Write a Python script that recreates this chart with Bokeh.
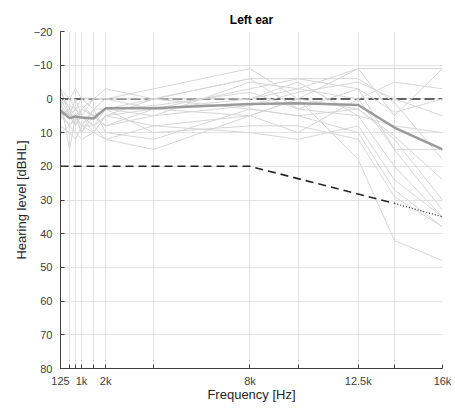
from bokeh.plotting import figure
from bokeh.models import Range1d, FixedTicker
from bokeh.embed import file_html
from bokeh.resources import INLINE

freqs = [125, 500, 750, 1000, 1500, 2000, 4000, 8000, 10000, 12500, 14000, 16000]
tick_labels = {125: "125", 1000: "1k", 2000: "2k", 8000: "8k", 12500: "12.5k", 16000: "16k"}

subjects = [
    [-3, 5, 3, 2, 5, 3, 5, -5, -3, -9, -9, -9],
    [0, 15, 5, 8, 3, 10, 12, 3, 5, 10, 27, 38],
    [5, 3, 8, 5, 10, 12, 15, 5, 0, 18, 42, 48],
    [10, 8, 5, 10, 5, 8, 3, 0, -5, 5, 20, 35],
    [2, 0, -3, 0, 3, 0, -3, -9, 0, -9, 5, -9],
    [8, 10, 12, 8, 8, 5, 0, -6, -6, -3, 15, 33],
    [-2, 3, 5, 3, 0, -3, 0, 3, 5, 3, 11, 24],
    [3, 5, 0, 5, 8, 3, 2, -2, 3, 5, 8, 10],
    [5, 8, 10, 12, 10, 5, 8, 10, 12, 8, 24, 35],
    [0, 2, 3, 0, 0, 0, 0, 0, -3, 0, -5, -3],
    [3, 5, 8, 3, 5, 8, 5, 2, -2, -5, 0, 5],
    [6, 3, 5, 10, 3, 3, 10, 8, 8, 12, 29, 38],
    [0, 5, 3, 5, 8, 12, 8, 5, 10, 0, 15, 15],
    [-3, 0, 3, 5, 0, 0, 3, -3, -6, -6, 1, 18],
    [4, 8, 6, 3, 5, 3, 0, -6, 3, -3, 4, 0],
    [2, 5, 5, 8, 10, 5, 3, 5, 0, 3, 12, 30],
]
mean_db = [3.5, 5.7, 5.2, 5.5, 5.8, 2.8, 2.8, 1.5, 1.3, 1.8, 8.5, 15.0]

ref_freq = [125, 16000]
ref_db = [0, 0]
thr_freq = [125, 8000, 14000]
thr_db = [20, 20, 31]
ext_freq = [14000, 16000]
ext_db = [31, 35]

FONT = "Liberation Sans"

p = figure(width=455, height=410, output_backend="svg", toolbar_location=None,
           x_range=Range1d(125, 16000), y_range=Range1d(80, -20),
           min_border_left=60, min_border_right=13, min_border_top=31, min_border_bottom=42,
           title="Left ear")
p.title.align = "center"
p.title.text_font = FONT
p.title.text_font_size = "12px"
p.title.text_font_style = "bold"
p.title.text_color = "#000000"
p.title.offset = 0
p.outline_line_color = None
p.background_fill_color = "white"

p.xaxis.ticker = FixedTicker(ticks=freqs)
p.xaxis.major_label_overrides = {f: tick_labels.get(f, "") for f in freqs}
p.yaxis.ticker = FixedTicker(ticks=list(range(-20, 81, 10)))
for ax in (p.xaxis, p.yaxis):
    ax.axis_line_color = "#404040"
    ax.major_tick_line_color = "#404040"
    ax.major_tick_in = 4
    ax.major_tick_out = 0
    ax.minor_tick_line_color = None
    ax.major_label_text_font = FONT
    ax.major_label_text_font_size = "11px"
    ax.major_label_text_color = "#404040"
    ax.axis_label_text_font = FONT
    ax.axis_label_text_font_size = "13px"
    ax.axis_label_text_font_style = "normal"
    ax.axis_label_text_color = "#262626"
p.xaxis.axis_label = "Frequency [Hz]"
p.yaxis.axis_label = "Hearing level [dBHL]"
p.xaxis.major_label_standoff = 6
p.yaxis.major_label_standoff = 8
p.xaxis.axis_label_standoff = -3
p.yaxis.axis_label_standoff = 2

p.xgrid.ticker = FixedTicker(ticks=freqs)
p.grid.grid_line_color = "#e3e3e3"
p.grid.grid_line_width = 1

p.line(ref_freq, ref_db, line_color="#333333", line_width=1.5, line_dash="10 4")
for s in subjects:
    p.line(freqs, s, line_color="#d6d6d6", line_width=1)
p.line(freqs, mean_db, line_color="#9a9a9a", line_width=2.5)
p.line(thr_freq, thr_db, line_color="#262626", line_width=1.6, line_dash="8 5")
p.line(ext_freq, ext_db, line_color="#262626", line_width=1.2, line_dash="1 2")

open("out.html", "w").write(file_html(p, INLINE))
